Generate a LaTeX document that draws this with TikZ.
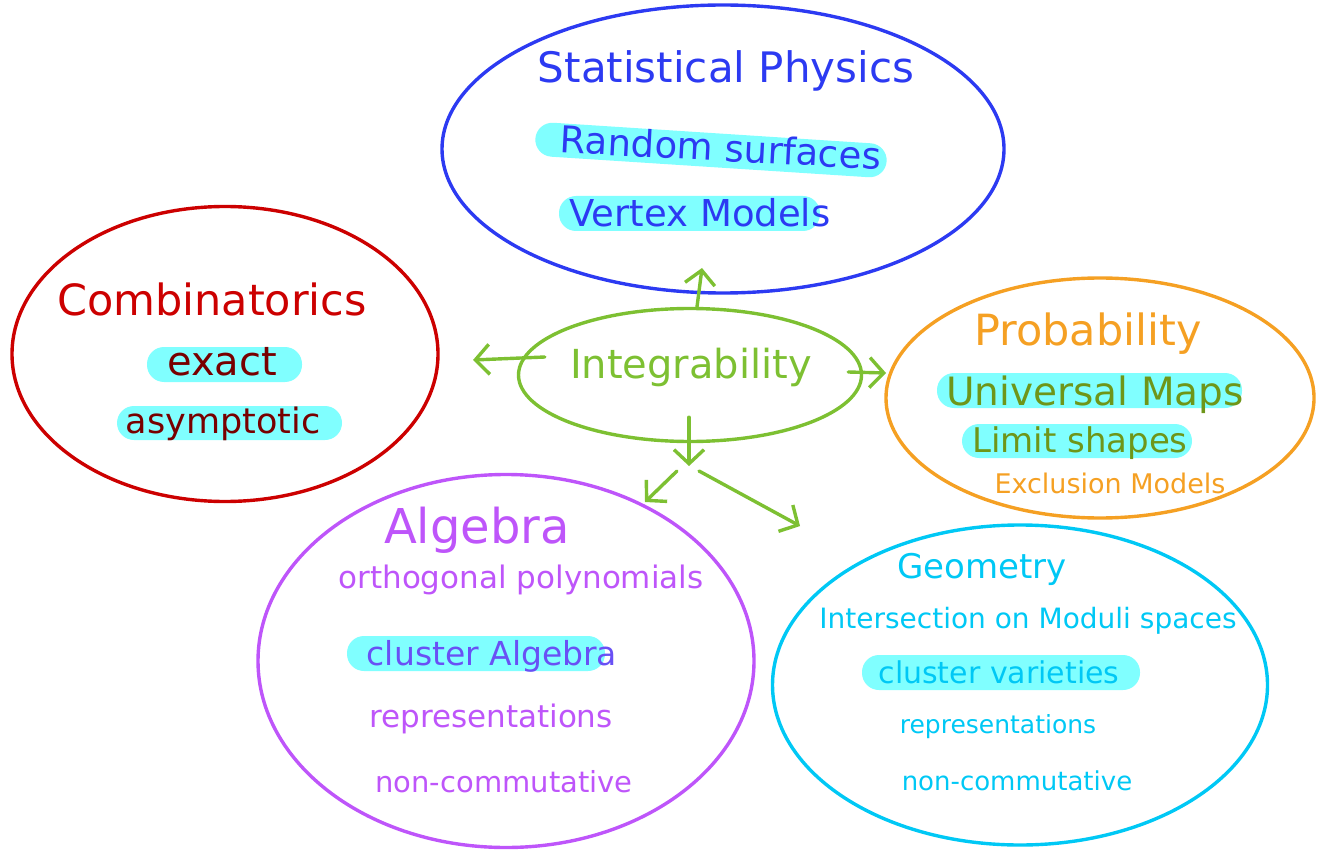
\documentclass[tikz,border=0pt]{standalone}
\usepackage{fontspec}
\setmainfont{DejaVu Sans}
\usetikzlibrary{
    arrows.meta,
    positioning,
    shapes.geometric,
    calc
}
\definecolor{PhysBlue}{RGB}{44,58,242}
\definecolor{CombRed}{RGB}{204,0,0}
\definecolor{CombDark}{RGB}{120,0,0}
\definecolor{IntGreen}{RGB}{125,192,50}
\definecolor{ProbOrange}{RGB}{245,160,35}
\definecolor{ProbOlive}{RGB}{110,150,25}
\definecolor{AlgPurple}{RGB}{190,85,250}
\definecolor{AlgViolet}{RGB}{105,80,245}
\definecolor{GeoCyan}{RGB}{0,200,245}
\definecolor{HiCyan}{RGB}{128,255,255}
\newcommand{\fsz}[1]{\fontsize{#1}{#1}\selectfont}

\begin{document}
\begin{tikzpicture}[
    x=1pt, y=-1pt,
    >={Straight Barb[length=14pt,width=30pt]},
    bubble/.style={draw=#1, ellipse, line width=3.4pt, inner sep=0pt},
    word/.style={inner sep=0pt, anchor=base},
    hilite/.style={fill=HiCyan, rounded corners=17pt},
    link/.style={->, line width=3.4pt, IntGreen, line cap=round, line join=round}
]
\useasboundingbox (0,0) rectangle (1319,850);

% Bubbles
\node[bubble=PhysBlue, minimum width=562pt, minimum height=288pt] (statphys) at (723,149) {};
\node[bubble=CombRed, minimum width=426pt, minimum height=295pt] (combin) at (225,354) {};
\node[bubble=IntGreen, minimum width=343pt, minimum height=133pt] (integ) at (690,375) {};
\node[bubble=ProbOrange, minimum width=428pt, minimum height=240pt] (prob) at (1100,398) {};
\node[bubble=AlgPurple, minimum width=496pt, minimum height=373pt] (alg) at (506,661) {};
\node[bubble=GeoCyan, minimum width=495pt, minimum height=320pt] (geo) at (1020,685) {};

% Highlights
\fill[hilite, rotate around={-3.7:(711,150)}] (535,133) rectangle (887,167);
\fill[hilite] (559,196) rectangle (820,231);
\fill[hilite] (147,347) rectangle (302,382);
\fill[hilite] (117,406) rectangle (342,440);
\fill[hilite] (937,373) rectangle (1242,408);
\fill[hilite] (962,424) rectangle (1192,458);
\fill[hilite] (347,636) rectangle (605,671);
\fill[hilite] (862,655) rectangle (1140,690);

% Statistical Physics
\node[word, PhysBlue, font=\fsz{42}] (physT) at (726,83) {Statistical Physics};
\node[word, PhysBlue, font=\fsz{37}, rotate=-3] (physA) at (720,161) {Random surfaces};
\node[word, PhysBlue, font=\fsz{37}] (physB) at (700,227) {Vertex Models};

% Combinatorics
\node[word, CombRed, font=\fsz{43}] (combT) at (212,315) {Combinatorics};
\node[word, CombDark, font=\fsz{40}] (combA) at (222,375) {exact};
\node[word, CombDark, font=\fsz{35}] (combB) at (223,433) {asymptotic};

% Integrability
\node[word, IntGreen, font=\fsz{40}] (integT) at (691,378) {Integrability};

% Probability
\node[word, ProbOrange, font=\fsz{43}] (probT) at (1088,345) {Probability};
\node[word, ProbOlive, font=\fsz{39}] (probA) at (1095,405) {Universal Maps};
\node[word, ProbOlive, font=\fsz{34}] (probB) at (1080,452) {Limit shapes};
\node[word, ProbOrange, font=\fsz{27}] (probC) at (1110,493) {Exclusion Models};

% Algebra
\node[word, AlgPurple, font=\fsz{48}] (algT) at (477,543) {Algebra};
\node[word, AlgPurple, font=\fsz{31}] (algA) at (521,588) {orthogonal polynomials};
\node[word, AlgViolet, font=\fsz{33}] (algB) at (492,665) {cluster Algebra};
\node[word, AlgPurple, font=\fsz{31}] (algC) at (491,727) {representations};
\node[word, AlgPurple, font=\fsz{29}] (algD) at (504,792) {non-commutative};

% Geometry
\node[word, GeoCyan, font=\fsz{34}] (geoT) at (982,578) {Geometry};
\node[word, GeoCyan, font=\fsz{28}] (geoA) at (1028,628) {Intersection on Moduli spaces};
\node[word, GeoCyan, font=\fsz{30}] (geoB) at (999,683) {cluster varieties};
\node[word, GeoCyan, font=\fsz{25}] (geoC) at (998,733) {representations};
\node[word, GeoCyan, font=\fsz{26}] (geoD) at (1017,790) {non-commutative};

% Arrows
\coordinate (toPhys) at (702,268);
\coordinate (toComb) at (473,360);
\coordinate (toProb) at (886,373);
\coordinate (fork) at (689,466);
\coordinate (forkL) at (677,471);
\coordinate (forkR) at (699,471);
\coordinate (toAlg) at (645,502);
\coordinate (toGeo) at (800,526);

\draw[link] ($(integ.north)+(7,0)$) -- (toPhys);
\draw[link] ($(integ.west)+(28,-18)$) -- (toComb);
\draw[link] ($(integ.east)+(-15,-3)$) -- (toProb);
\draw[link] ($(integ.south)+(-1,-26)$) -- (fork);
\draw[link] (forkL) -- (toAlg);
\draw[link] (forkR) -- (toGeo);

\end{tikzpicture}
\end{document}
